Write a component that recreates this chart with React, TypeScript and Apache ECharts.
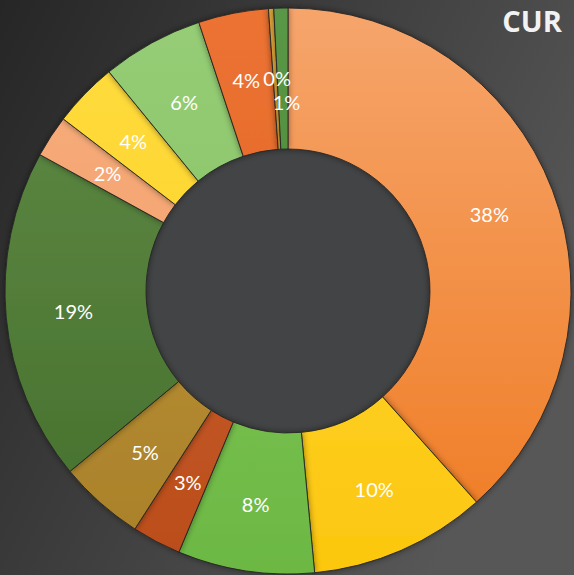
import React, { useEffect, useRef } from "react";
import * as echarts from "echarts";

const categories = ["A", "B", "C", "D", "E", "F", "G", "H", "I", "J", "K", "L"];
const values = [38.4, 10.1, 7.8, 2.8, 4.9, 19.0, 2.4, 3.7, 5.8, 4.0, 0.3, 0.8];
const topColors = ["#F6A56C", "#FFDA40", "#8ACB64", "#D2652F", "#C29A3A", "#5F8B46", "#F7AE7E", "#FFDC40", "#96CD76", "#EC7333", "#E0A83A", "#5A9846"];
const baseColors = ["#EF7A20", "#FCC70E", "#6CB843", "#BA4D1C", "#A9802A", "#456F2C", "#F19A62", "#FBCE1C", "#7FBE5B", "#DD5E1D", "#D08C1E", "#437E32"];
const titleText = "CUR";

export default function App() {
  const ref = useRef<HTMLDivElement>(null);
  useEffect(() => {
    if (!ref.current) return;
    const chart = echarts.init(ref.current, null, { renderer: "svg" });
    const data = values.map((v, i) => {
      const item: any = {
        name: categories[i],
        value: v,
        itemStyle: {
          color: new echarts.graphic.LinearGradient(0, 8, 0, 574, [
            { offset: 0, color: topColors[i] },
            { offset: 1, color: baseColors[i] },
          ], true),
        },
      };
      if (i === 11) item.label = { offset: [4, 26] };
      if (i === 10) item.label = { offset: [2, 2] };
      return item;
    });
    chart.setOption({
      animation: false,
      backgroundColor: new echarts.graphic.LinearGradient(0, 0, 1, 0.5, [
        { offset: 0, color: "#262626" },
        { offset: 1, color: "#575757" },
      ]),
      graphic: [
        {
          type: "circle",
          shape: { cx: 288, cy: 291, r: 142 },
          style: { fill: "#434445" },
          z: -1,
        },
        {
          type: "text",
          x: 532,
          y: 20,
          style: {
            text: titleText,
            fill: "#F2F2F2",
            font: "bold 29px 'Open Sans'",
            align: "center",
            verticalAlign: "middle",
            shadowColor: "rgba(0,0,0,0.5)",
            shadowBlur: 3,
            shadowOffsetX: 1,
            shadowOffsetY: 1,
          },
        },
      ],
      series: [
        {
          type: "pie",
          center: [288, 291],
          radius: [142, 283],
          startAngle: 90,
          clockwise: true,
          avoidLabelOverlap: false,
          data,
          itemStyle: {
            borderColor: "rgba(35,35,35,0.85)",
            borderWidth: 1,
            shadowColor: "rgba(0,0,0,0.45)",
            shadowBlur: 6,
          },
          label: {
            show: true,
            position: "inside",
            color: "#FFFFFF",
            fontFamily: "Lato",
            fontSize: 20,
            formatter: (p: any) => Math.round(p.percent) + "%",
          },
          labelLine: { show: false },
          emphasis: { disabled: true },
        },
      ],
    });
    return () => chart.dispose();
  }, []);
  return (
    <div
      ref={ref}
      style={{ position: "fixed", left: 0, top: 0, width: 574, height: 575 }}
    />
  );
}
